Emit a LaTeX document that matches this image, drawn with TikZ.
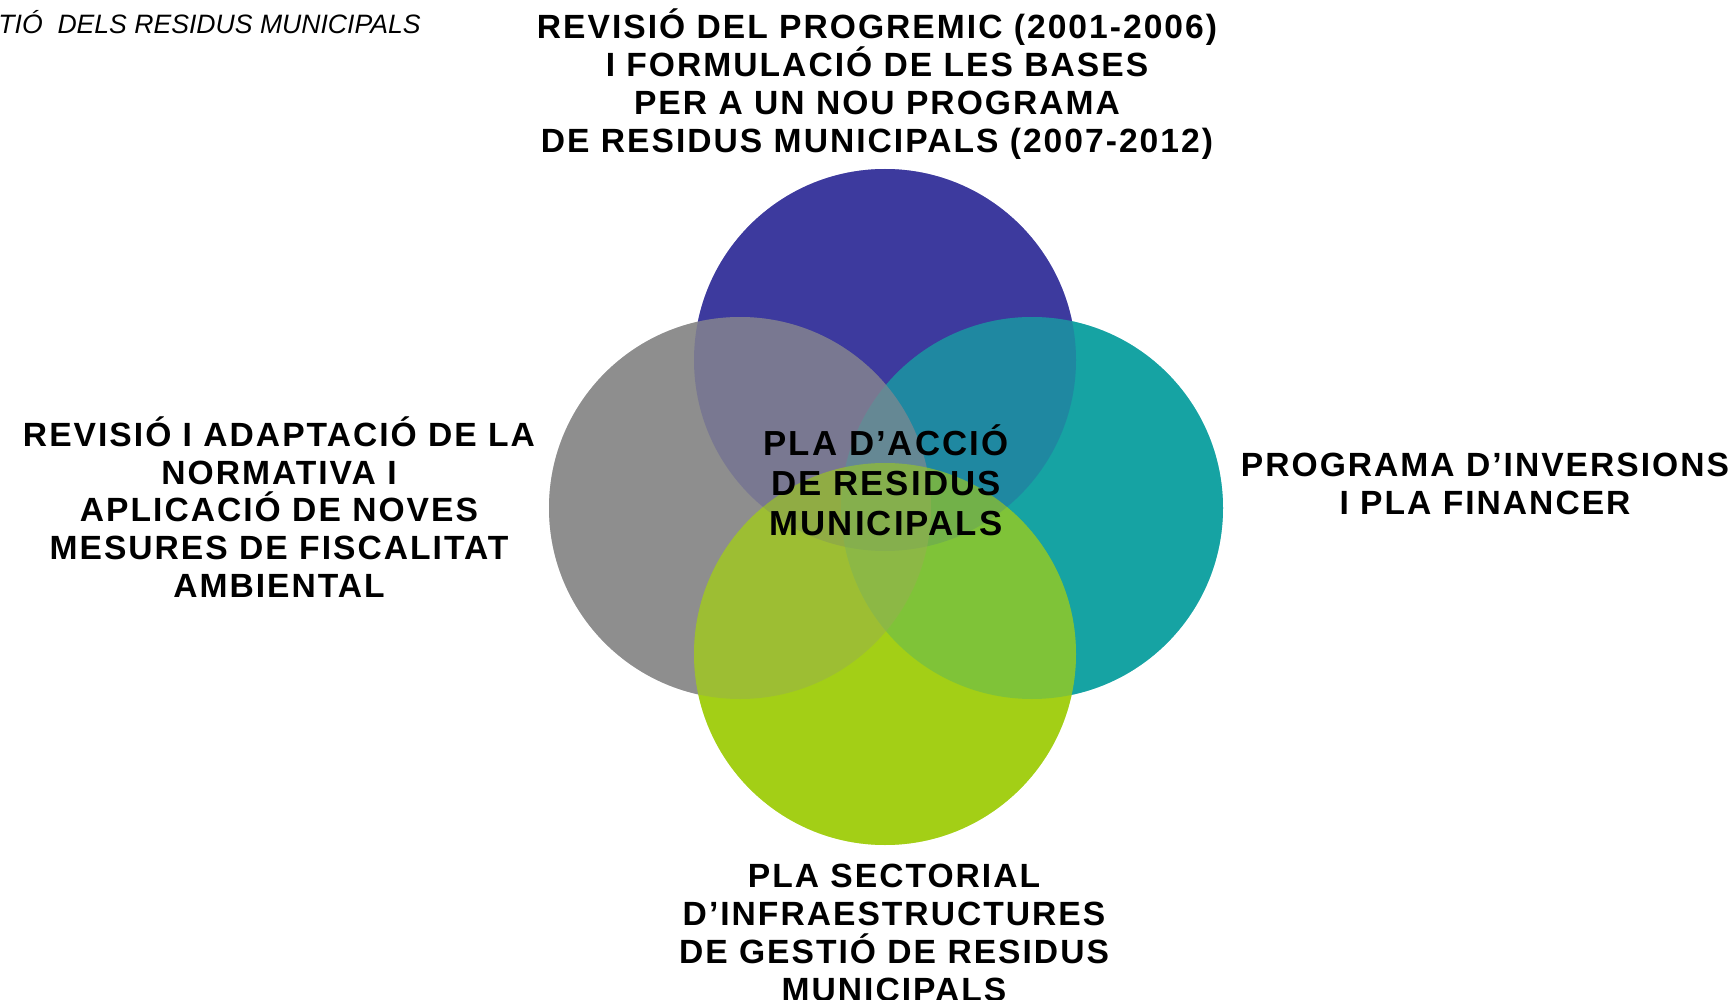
\documentclass[tikz,border=0pt]{standalone}
\usepackage{fontspec}
\setmainfont{Liberation Sans}
\newfontfamily\capsfont[LetterSpace=6]{Liberation Sans}
\usetikzlibrary{positioning}
\definecolor{topblue}{RGB}{61,58,158}
\definecolor{rightteal}{RGB}{22,163,163}
\definecolor{bottomgreen}{RGB}{163,207,22}
\definecolor{leftgray}{RGB}{142,142,142}
\tikzstyle{bubble} = [circle, minimum size=191pt, inner sep=0pt, draw=none]
\tikzstyle{glass} = [bubble, fill opacity=0.5]
\tikzstyle{heading} = [align=center, inner sep=0pt, text=black, font=\capsfont\bfseries\fontsize{16.8}{18.9}\selectfont]
\tikzstyle{core} = [heading, font=\capsfont\bfseries\fontsize{17.4}{20}\selectfont]

\begin{document}
\begin{tikzpicture}[x=0.5pt, y=-0.5pt]
\useasboundingbox (0,0) rectangle (1731,1000);

% solid layer
\node (top) [bubble, fill=topblue] at (885,360) {};
\node (right) [bubble, fill=rightteal] at (1032,508) {};
\node (left) [bubble, fill=leftgray] at (740,508) {};
\node (bottom) [bubble, fill=bottomgreen] at (885,654) {};
% see-through layer for the overlaps
\node [glass, fill=topblue] at (top) {};
\node [glass, fill=rightteal] at (right) {};
\node [glass, fill=leftgray] at (left) {};
\node [glass, fill=bottomgreen] at (bottom) {};

\node (title) [anchor=west, inner sep=0pt, font=\itshape\fontsize{13.3}{15}\selectfont] at (-2,22) {TIÓ\ \ DELS RESIDUS MUNICIPALS};

\node (toptext) [heading] at (877,84) {REVISIÓ DEL PROGREMIC (2001-2006)\\I FORMULACIÓ DE LES BASES\\PER A UN NOU PROGRAMA\\DE RESIDUS MUNICIPALS (2007-2012)};
\node (lefttext) [heading] at (279,507) {REVISIÓ I ADAPTACIÓ DE LA\\NORMATIVA I\\APLICACIÓ DE NOVES\\MESURES DE FISCALITAT\\AMBIENTAL};
\node (righttext) [heading] at (1485,484) {PROGRAMA D’INVERSIONS\\I PLA FINANCER};
\node (bottomtext) [heading] at (894,933) {PLA SECTORIAL\\D’INFRAESTRUCTURES\\DE GESTIÓ DE RESIDUS\\MUNICIPALS};
\node (centre) [core] at (886,480) {PLA D’ACCIÓ\\DE RESIDUS\\MUNICIPALS};

\end{tikzpicture}
\end{document}
